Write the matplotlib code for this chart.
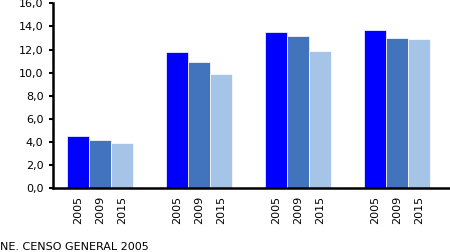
import matplotlib.pyplot as plt
import numpy as np

# datos
groups = ['G1', 'G2', 'G3', 'G4']
years = ['2005', '2009', '2015']
v2005 = [4.5, 11.8, 13.5, 13.7]
v2009 = [4.2, 10.9, 13.2, 13.0]
v2015 = [3.9, 9.9, 11.9, 12.9]
colors = ['#0000FF', '#4274BD', '#A6C3E8']
source = 'NE. CENSO GENERAL 2005'

fig = plt.figure(figsize=(4.5, 2.52), dpi=100)
ax = fig.add_axes([0.118, 0.252, 0.882, 0.735])

x = np.arange(len(groups))
w = 0.222
ticks, labels = [], []
for i, (vals, c) in enumerate(zip([v2005, v2009, v2015], colors)):
    pos = x + (i - 1) * w
    ax.bar(pos, vals, width=w, color=c, edgecolor='white', linewidth=0.5)
    ticks += list(pos)
    labels += [years[i]] * len(groups)

ax.set_xticks(ticks)
ax.set_xticklabels(labels, rotation=90, fontsize=8)
ax.tick_params(axis='x', length=0, pad=5)
ax.set_xlim(-0.475, 3.535)

ax.set_ylim(0, 16)
ax.set_yticks(np.arange(0, 17, 2))
ax.set_yticklabels([f'{v:.1f}'.replace('.', ',') for v in np.arange(0, 17, 2)], fontsize=8)
ax.tick_params(axis='y', length=3, width=1.5, pad=4)

for s in ['top', 'right']:
    ax.spines[s].set_visible(False)
ax.spines['left'].set_linewidth(1.8)
ax.spines['bottom'].set_linewidth(1.8)

fig.text(0.0, 1 - 247 / 252, source, fontsize=8, va='center', ha='left')

fig.savefig('out.png', dpi=100)
